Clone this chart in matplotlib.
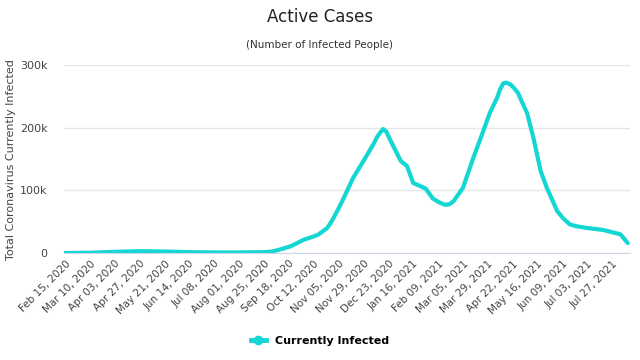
import pandas as pd
import matplotlib
matplotlib.use("Agg")
from matplotlib import pyplot as plt
from matplotlib.ticker import FuncFormatter
from matplotlib.lines import Line2D

# Active cases (people)
dates = ["2020-02-15", "2020-03-10", "2020-04-03", "2020-04-27", "2020-05-21",
         "2020-06-14", "2020-07-08", "2020-08-01", "2020-08-25", "2020-08-30",
         "2020-09-03", "2020-09-10", "2020-09-20", "2020-10-02", "2020-10-16",
         "2020-10-25", "2020-10-29", "2020-11-04", "2020-11-07", "2020-11-10",
         "2020-11-19", "2020-11-29", "2020-12-09", "2020-12-12", "2020-12-15",
         "2020-12-18", "2020-12-21", "2020-12-25", "2021-01-04", "2021-01-10",
         "2021-01-16", "2021-01-28", "2021-02-04", "2021-02-10", "2021-02-16",
         "2021-02-20", "2021-02-24", "2021-03-05", "2021-03-15", "2021-03-24",
         "2021-03-31", "2021-04-07", "2021-04-10", "2021-04-13", "2021-04-16",
         "2021-04-20", "2021-04-23", "2021-04-27", "2021-05-06", "2021-05-12",
         "2021-05-19", "2021-05-25", "2021-06-04", "2021-06-10", "2021-06-16",
         "2021-06-22", "2021-07-03", "2021-07-18", "2021-08-04", "2021-08-11"]
active = [100, 500, 2000, 3000, 2500,
          1500, 1000, 1000, 1500, 2000,
          3000, 6000, 11000, 21000, 29000,
          40000, 50000, 68000, 78000, 88000,
          120000, 147000, 175000, 185000, 192000,
          198000, 194000, 180000, 147000, 139000,
          112000, 103000, 87000, 81000, 77000,
          78000, 83000, 104000, 152000, 192000,
          224000, 248000, 262000, 271000, 272000,
          269000, 264000, 256000, 223000, 184000,
          131000, 104000, 67000, 55000, 46000,
          43000, 40000, 37000, 30000, 16000]

tick_start = "2020-02-15"
tick_step_days = 24
tick_count = 23

color = "#14d6d3"
x = pd.to_datetime(dates)

fig = plt.figure(figsize=(6.4, 3.6), dpi=100)
ax = fig.add_axes([0.1, 0.297, 0.884, 0.522])

ax.plot(x, active, color=color, linewidth=3.0, solid_capstyle="round",
        solid_joinstyle="round")

ax.set_ylim(0, 300000)
ax.set_yticks([0, 100000, 200000, 300000])
ax.yaxis.set_major_formatter(FuncFormatter(lambda v, p: "0" if v == 0 else f"{int(v / 1000)}k"))
ax.set_xlim(pd.Timestamp("2020-02-14"), pd.Timestamp("2021-08-13"))

ticks = pd.date_range(tick_start, periods=tick_count, freq=f"{tick_step_days}D")
ax.set_xticks(ticks)
ax.set_xticklabels([t.strftime("%b %d, %Y") for t in ticks], rotation=45,
                   ha="right", rotation_mode="anchor", fontsize=7.5, color="#444444")

ax.grid(axis="y", color="#e6e6e6", linewidth=1)
ax.set_axisbelow(True)
for s in ["top", "right", "left"]:
    ax.spines[s].set_visible(False)
ax.spines["bottom"].set_color("#ccd6eb")
ax.tick_params(axis="y", length=0, labelsize=8, labelcolor="#444444", pad=12)
ax.tick_params(axis="x", length=0, pad=4)

ax.set_ylabel("Total Coronavirus Currently Infected", fontsize=8, color="#444444", labelpad=8)
ax.yaxis.set_label_coords(-0.085, 0.5)

fig.text(0.5, 0.952, "Active Cases", ha="center", va="center", fontsize=12, color="#222222")
fig.text(0.5, 0.875, "(Number of Infected People)", ha="center", va="center",
         fontsize=7.5, color="#333333")

handle = Line2D([], [], color=color, linewidth=3.5, marker="o", markersize=6)
fig.legend([handle], ["Currently Infected"], loc="center", bbox_to_anchor=(0.5, 0.052),
           frameon=False, handlelength=1.3, prop={"weight": "bold", "size": 8})

fig.savefig("out.png", dpi=100)
